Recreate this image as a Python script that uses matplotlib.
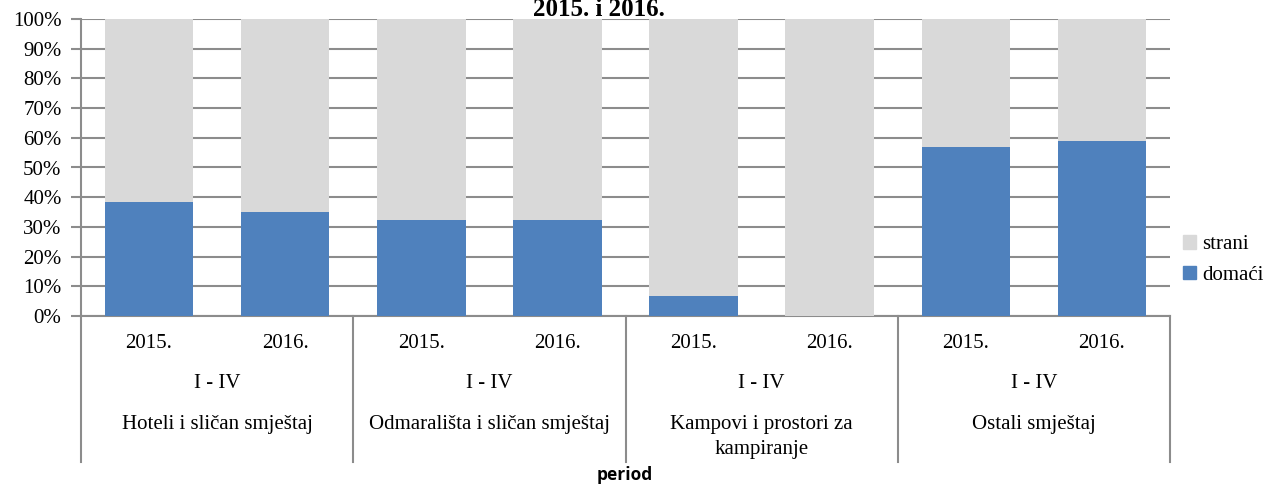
import numpy as np
import matplotlib.pyplot as plt
from matplotlib.transforms import blended_transform_factory
from matplotlib.patches import Patch

# --- data ---
groups = ["Hoteli i sličan smještaj", "Odmarališta i sličan smještaj",
          "Kampovi i prostori za\nkampiranje", "Ostali smještaj"]
period = "I - IV"
years = ["2015.", "2016."]
domaci = [38.3, 35.0, 32.3, 32.3, 6.8, 0.0, 56.8, 58.9]
strani = [100 - v for v in domaci]

BLUE = "#4F81BD"
GRAY = "#D9D9D9"
LINE = "#8C8C8C"
SERIF = "Liberation Serif"
FS = 15

fig = plt.figure(figsize=(12.74, 4.86), dpi=100)
ax = fig.add_axes([81 / 1274, 1 - 316 / 486, (1170 - 81) / 1274, (316 - 19) / 486])

xs = np.arange(len(domaci))
ax.bar(xs, domaci, width=0.65, color=BLUE, zorder=3)
ax.bar(xs, strani, width=0.65, bottom=domaci, color=GRAY, zorder=3)

ax.set_xlim(-0.5, len(domaci) - 0.5)
ax.set_ylim(0, 100)
ax.set_yticks(np.arange(0, 101, 10))
ax.set_yticklabels([f"{v}%" for v in range(0, 101, 10)], fontsize=FS, family=SERIF)
ax.yaxis.grid(True, color=LINE, linewidth=1.5, zorder=0)
ax.tick_params(axis="y", length=7, width=1.5, color=LINE, pad=7)
ax.set_xticks([])
for s in ["top", "right"]:
    ax.spines[s].set_visible(False)
for s in ["left", "bottom"]:
    ax.spines[s].set_color(LINE)
    ax.spines[s].set_linewidth(1.5)

# multi-level category axis
tr = blended_transform_factory(ax.transData, ax.transAxes)
px = 1 / (316 - 19)  # one pixel in axes-fraction units
for i, x in enumerate(xs):
    ax.text(x, -(343 - 316) * px, years[i % 2], transform=tr, ha="center", va="center",
            fontsize=FS, family=SERIF)
for g, name in enumerate(groups):
    cx = 2 * g + 0.5
    ax.text(cx, -(383 - 316) * px, period, transform=tr, ha="center", va="center",
            fontsize=FS, family=SERIF)
    ax.text(cx, -(415 - 316) * px, name, transform=tr, ha="center", va="top",
            fontsize=FS, family=SERIF, linespacing=1.45)
for g in range(len(groups) + 1):
    sx = 2 * g - 0.5
    ax.plot([sx, sx], [0, -(462 - 316) * px], transform=tr, color=LINE,
            linewidth=1.5, clip_on=False)

fig.text(625 / 1274, 1 - 475 / 486, "period", ha="center", va="center",
         fontsize=12.5, fontweight="bold", family="Open Sans")
fig.text(599 / 1274, 1 - 10 / 486, "2015. i 2016.", ha="center", va="center",
         fontsize=18, fontweight="bold", family=SERIF)

handles = [Patch(color=GRAY, label="strani"), Patch(color=BLUE, label="domaći")]
fig.legend(handles=handles, loc="center left", bbox_to_anchor=(1175 / 1274, 1 - 260 / 486),
           frameon=False, prop={"family": SERIF, "size": FS}, handlelength=0.6,
           handleheight=0.6, handletextpad=0.3, labelspacing=0.55, borderaxespad=0)

fig.savefig("out.png", dpi=100)
